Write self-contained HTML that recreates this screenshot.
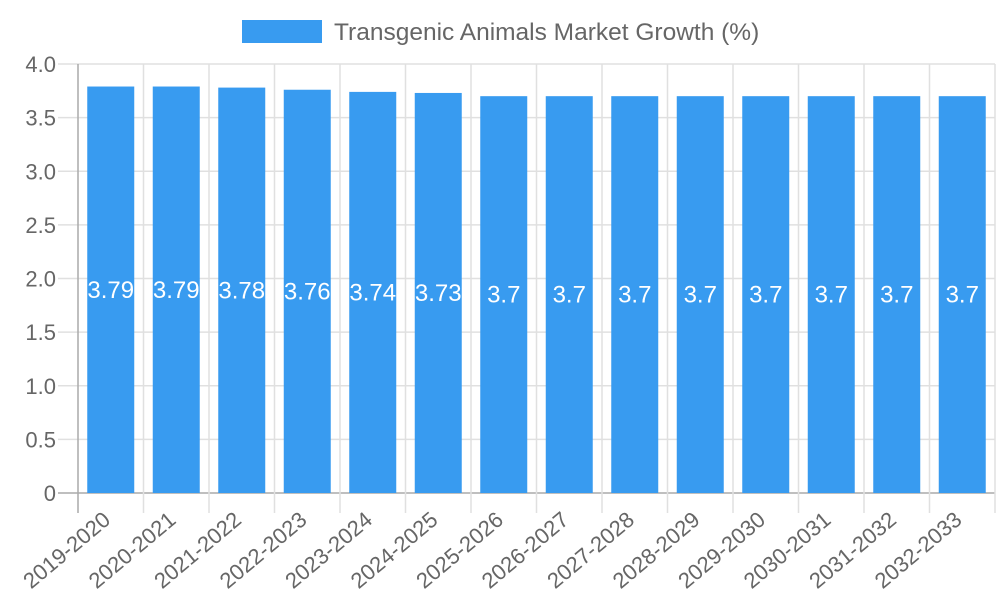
<!DOCTYPE html>
<html><head><meta charset="utf-8"><style>body{margin:0;background:#fff}svg{display:block;font-family:"Liberation Sans",sans-serif}</style></head>
<body>
<svg id="c" width="1000" height="600">
<rect x="242" y="20" width="80" height="23" fill="#389bf0"/>
<text x="334" y="40" font-size="24.5" fill="#666">Transgenic Animals Market Growth (%)</text>
</svg>
<script>
const categories=["2019-2020","2020-2021","2021-2022","2022-2023","2023-2024","2024-2025","2025-2026","2026-2027","2027-2028","2028-2029","2029-2030","2030-2031","2031-2032","2032-2033"];
const values=[3.79,3.79,3.78,3.76,3.74,3.73,3.7,3.7,3.7,3.7,3.7,3.7,3.7,3.7];
const yTicks=[0,0.5,1.0,1.5,2.0,2.5,3.0,3.5,4.0];
const yTickLabels=["0","0.5","1.0","1.5","2.0","2.5","3.0","3.5","4.0"];
const svg=document.getElementById('c');const NS='http://www.w3.org/2000/svg';
const L=78,R=995,T=64,B=493,yMax=4;
const y=v=>B-(v/yMax)*(B-T);
const bw=(R-L)/categories.length;
const x=i=>L+bw*i;
function mk(t,a,p){const e=document.createElementNS(NS,t);for(const k in a)e.setAttribute(k,a[k]);(p||svg).appendChild(e);return e;}
yTicks.forEach((v,i)=>{
 const g=mk('line',{x1:58,x2:R,y1:y(v),y2:y(v),stroke:i==0?'#aaa':'#e0e0e0','stroke-width':1.5});
 
 
 const t=mk('text',{x:56,y:y(v)+8,'text-anchor':'end','font-size':22,fill:'#666'});t.textContent=yTickLabels[i];
 
 
});
for(let i=0;i<=categories.length;i++){
 const g=mk('line',{x1:x(i),x2:x(i),y1:T,y2:513,stroke:i==0?'#aaa':'#e0e0e0','stroke-width':1.5});
 
 
}
categories.forEach((c,i)=>{
 const cx=x(i)+bw/2,w=47;
 const r=mk('rect',{x:cx-w/2,y:y(values[i]),width:w,height:B-y(values[i]),fill:'#389bf0'});
 
 
 const t=mk('text',{x:cx,y:(y(values[i])+B)/2+8,'text-anchor':'middle','font-size':24,fill:'#fff'});t.textContent=values[i];
 
 
 const lx=cx+1,ly=522;
 const l=mk('text',{x:lx,y:ly,'text-anchor':'end','font-size':22,fill:'#666',transform:`rotate(-40 ${lx} ${ly})`});l.textContent=c;
 
 
});
</script>
</body></html>
